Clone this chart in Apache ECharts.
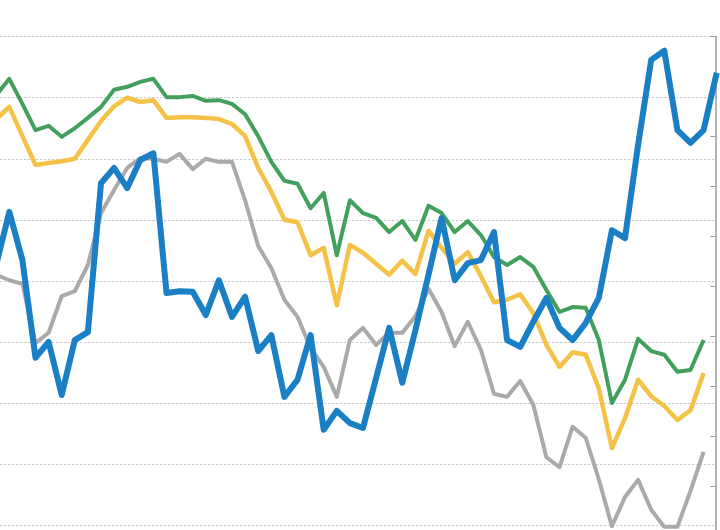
<!DOCTYPE html>
<html>
<head>
<meta charset="utf-8">
<script src="https://cdn.jsdelivr.net/npm/echarts@6/dist/echarts.min.js"></script>
<style>
  html, body { margin: 0; padding: 0; background: #fff; }
  #chart { width: 720px; height: 530px; }
</style>
</head>
<body>
<div id="chart"></div>
<script>
var periods = ['1','2','3','4','5','6','7','8','9','10','11','12','13','14','15','16','17','18','19','20',
  '21','22','23','24','25','26','27','28','29','30','31','32','33','34','35','36','37','38','39','40',
  '41','42','43','44','45','46','47','48','49','50','51','52','53','54','55','56'];

var greenLine = [70.4, 73.1, 69.0, 64.7, 65.4, 63.6, 65.0, 66.7, 68.5, 71.3,
  71.8, 72.6, 73.1, 70.1, 70.1, 70.3, 69.5, 69.6, 69.0, 67.3,
  63.7, 59.5, 56.4, 55.9, 51.9, 54.4, 44.2, 53.2, 51.1, 50.3,
  48.0, 49.8, 46.7, 52.3, 51.1, 48.0, 49.8, 47.5, 43.9, 42.6,
  43.9, 42.3, 38.5, 34.9, 35.7, 35.6, 30.3, 20.0, 23.8, 30.5,
  28.5, 27.9, 25.1, 25.4, 30.3, null];

var yellowLine = [66.5, 68.5, 63.7, 59.0, 59.3, 59.6, 60.0, 63.1, 66.2, 68.6,
  70.0, 69.3, 69.6, 66.7, 66.8, 66.8, 66.7, 66.5, 65.7, 63.7,
  58.5, 54.6, 50.0, 49.6, 44.2, 45.4, 36.0, 45.9, 44.6, 42.8,
  41.0, 43.3, 41.1, 48.2, 45.4, 42.8, 44.7, 40.8, 36.5, 36.9,
  37.8, 34.7, 29.5, 25.9, 28.3, 27.9, 22.4, 12.6, 17.5, 23.8,
  21.1, 19.5, 17.2, 18.8, 24.9, null];

var grayLine = [41.0, 40.1, 39.5, 29.8, 31.5, 37.5, 38.3, 42.6, 51.1, 54.9,
  58.5, 60.1, 60.0, 59.5, 60.8, 58.3, 60.0, 59.5, 59.5, 53.2,
  45.7, 42.1, 36.9, 34.1, 29.0, 25.9, 21.0, 30.3, 32.3, 29.5,
  31.5, 31.5, 34.2, 38.7, 34.9, 29.3, 33.3, 28.7, 21.5, 21.0,
  23.6, 19.7, 11.1, 9.5, 16.1, 14.3, 7.5, -0.2, 4.6, 7.4,
  2.5, -0.3, -0.3, 5.6, 12.0, null];

var blueLine = [42.6, 51.3, 43.4, 27.4, 30.0, 21.3, 30.3, 31.6, 56.0, 58.5,
  55.2, 59.8, 60.9, 38.0, 38.3, 38.2, 34.4, 40.1, 34.1, 37.4,
  28.5, 31.1, 21.0, 23.8, 31.1, 15.6, 18.7, 16.7, 15.9, 24.1,
  32.3, 23.3, 31.9, 41.0, 50.3, 40.1, 42.9, 43.4, 48.0, 30.3,
  29.2, 33.3, 37.2, 32.3, 30.3, 33.1, 37.2, 48.3, 47.0, 62.3,
  76.2, 77.7, 64.7, 62.6, 64.7, 74.1];

var chart = echarts.init(document.getElementById('chart'));

function lineSeries(name, data, color, width, z) {
  return {
    name: name,
    type: 'line',
    data: data,
    symbol: 'none',
    z: z,
    lineStyle: { color: color, width: width, join: 'round' },
    itemStyle: { color: color }
  };
}

var option = {
  animation: false,
  backgroundColor: '#fff',
  grid: {
    left: -3.8, top: 36.7, width: 720.5, height: 610.4,
    containLabel: false,
    outerBoundsMode: 'none'
  },
  xAxis: {
    type: 'category',
    data: periods,
    boundaryGap: false,
    axisLine: { show: false },
    axisTick: { show: false },
    axisLabel: { show: false },
    splitLine: { show: false }
  },
  yAxis: [
    {
      type: 'value',
      min: -20,
      max: 80,
      interval: 10,
      axisLine: { show: false },
      axisTick: { show: false },
      axisLabel: { show: false },
      splitLine: { lineStyle: { color: '#c4c4c4', width: 1, type: [2, 2] } }
    },
    {
      type: 'value',
      position: 'right',
      offset: -1.3,
      inverse: true,
      min: 0,
      max: 12.208,
      interval: 1,
      axisLine: { show: true, lineStyle: { color: '#9a9a9a', width: 1.5 } },
      axisTick: { show: true, inside: true, length: 5, lineStyle: { color: '#9a9a9a' } },
      axisLabel: { show: false },
      splitLine: { show: false }
    }
  ],
  series: [
    lineSeries('gray', grayLine, '#aaaaaa', 4, 1),
    lineSeries('green', greenLine, '#43a05c', 4, 2),
    lineSeries('yellow', yellowLine, '#f4c247', 4.5, 3),
    lineSeries('blue', blueLine, '#1a7fc4', 6, 4)
  ]
};

chart.setOption(option);
</script>
</body>
</html>
